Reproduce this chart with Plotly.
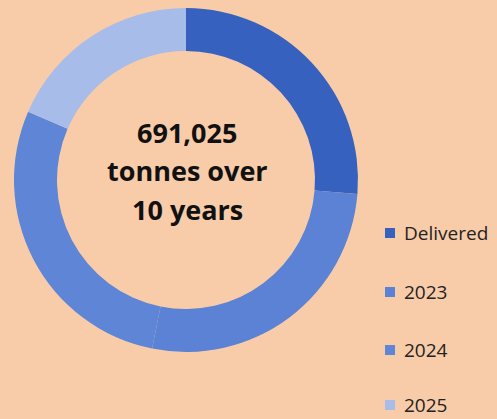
import plotly.graph_objects as go

# Tonnage schedule
labels = ["Delivered", "2023", "2024", "2025"]
tonnes = [181740, 185600, 195845, 127840]
colors = ["#3661BF", "#5B82D4", "#5E85D6", "#A7BCE8"]
centre_lines = ["691,025", "tonnes over", "10 years"]

W, H = 497, 419
BG = "#F9CCA9"

fig = go.Figure(
    go.Pie(
        labels=labels,
        values=tonnes,
        hole=0.75,
        sort=False,
        direction="clockwise",
        rotation=0,
        textinfo="none",
        marker=dict(colors=colors, line=dict(width=0)),
        showlegend=False,
        domain=dict(x=[14 / W, 358 / W], y=[1 - 352 / H, 1 - 8 / H]),
    )
)

annotations = []
shapes = []

# Centre caption
for text, ypx in zip(centre_lines, [132, 171, 209]):
    annotations.append(dict(
        x=187 / W, y=1 - ypx / H, xref="paper", yref="paper",
        text=f"<b>{text}</b>", showarrow=False,
        font=dict(family="Open Sans", size=27, color="#111111"),
        xanchor="center", yanchor="middle",
    ))

# Legend: swatch + label per category
legend_y = [233, 292, 350, 405]
for lab, col, ypx in zip(labels, colors, legend_y):
    shapes.append(dict(
        type="rect", xref="paper", yref="paper",
        x0=385 / W, x1=395 / W, y0=1 - (ypx + 5) / H, y1=1 - (ypx - 5) / H,
        fillcolor=col, line=dict(width=0),
    ))
    annotations.append(dict(
        x=402 / W, y=1 - ypx / H, xref="paper", yref="paper",
        text=lab, showarrow=False,
        font=dict(family="Open Sans", size=19, color="#222222"),
        xanchor="left", yanchor="middle",
    ))

fig.update_layout(
    width=W, height=H,
    margin=dict(l=0, r=0, t=0, b=0),
    paper_bgcolor=BG, plot_bgcolor=BG,
    annotations=annotations, shapes=shapes,
)

fig.write_html("out.html")
